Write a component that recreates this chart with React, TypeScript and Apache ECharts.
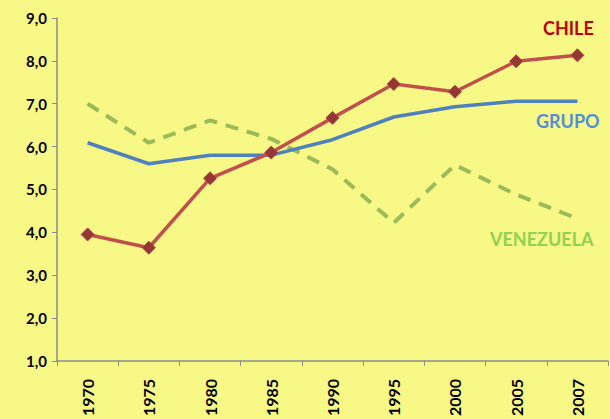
import React, { useEffect, useRef } from "react";
import * as echarts from "echarts";

const years = ["1970", "1975", "1980", "1985", "1990", "1995", "2000", "2005", "2007"];
const chile = [3.95, 3.64, 5.26, 5.86, 6.67, 7.46, 7.28, 7.99, 8.13];
const grupo = [6.09, 5.6, 5.8, 5.8, 6.16, 6.69, 6.93, 7.06, 7.06];
const venezuela = [7.0, 6.09, 6.61, 6.18, 5.47, 4.22, 5.57, 4.88, 4.32];

const FONT = "Lato, 'Open Sans', sans-serif";

export default function App() {
  const ref = useRef<HTMLDivElement>(null);
  useEffect(() => {
    if (!ref.current) return;
    const chart = echarts.init(ref.current, null, { renderer: "svg" });
    chart.setOption({
      animation: false,
      backgroundColor: "#F8F886",
      grid: { left: 57, right: 2, top: 18, bottom: 56 },
      xAxis: {
        type: "category",
        data: years,
        boundaryGap: true,
        axisLine: { lineStyle: { color: "#8C8C8C", width: 1.5 } },
        axisTick: { show: true, alignWithLabel: false, length: 5, lineStyle: { color: "#8C8C8C" } },
        axisLabel: {
          rotate: 90,
          margin: 18,
          color: "#000",
          fontWeight: "bold",
          fontSize: 16,
          fontFamily: FONT,
        },
        splitLine: { show: false },
      },
      yAxis: {
        type: "value",
        min: 1,
        max: 9,
        interval: 1,
        axisLine: { show: true, lineStyle: { color: "#8C8C8C", width: 1.5 } },
        axisTick: { show: true, length: 5, lineStyle: { color: "#8C8C8C" } },
        axisLabel: {
          color: "#000",
          fontWeight: "bold",
          fontSize: 15,
          fontFamily: FONT,
          margin: 10,
          formatter: (v: number) => v.toFixed(1).replace(".", ","),
        },
        splitLine: { show: false },
      },
      series: [
        {
          name: "VENEZUELA",
          type: "line",
          data: venezuela,
          showSymbol: false,
          symbol: "none",
          lineStyle: { color: "#9BBB59", width: 4, type: [13, 9] },
          z: 1,
        },
        {
          name: "GRUPO",
          type: "line",
          data: grupo,
          showSymbol: false,
          symbol: "none",
          lineStyle: { color: "#4F81BD", width: 3.5 },
          z: 2,
        },
        {
          name: "CHILE",
          type: "line",
          data: chile,
          symbol: "diamond",
          symbolSize: 13,
          itemStyle: { color: "#953735", borderColor: "#B04040", borderWidth: 1 },
          lineStyle: { color: "#C0504D", width: 3.5 },
          z: 3,
        },
      ],
      graphic: [
        {
          type: "text",
          left: 543,
          top: 19,
          style: { text: "CHILE", fill: "#C00000", font: `bold 18px ${FONT}` },
        },
        {
          type: "text",
          left: 536,
          top: 112,
          style: { text: "GRUPO", fill: "#558ED5", font: `bold 18px ${FONT}` },
        },
        {
          type: "text",
          left: 490,
          top: 230,
          style: { text: "VENEZUELA", fill: "#92D050", font: `bold 18px ${FONT}` },
        },
      ],
    });
    return () => chart.dispose();
  }, []);
  return <div ref={ref} style={{ position: "absolute", left: 0, top: 0, width: 610, height: 419 }} />;
}
